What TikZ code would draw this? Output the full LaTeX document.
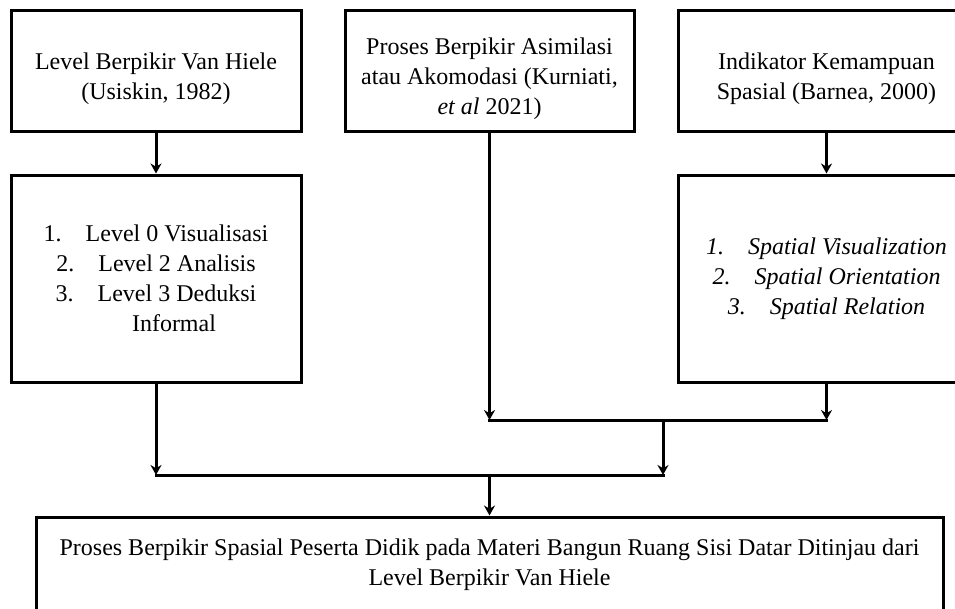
\documentclass[tikz,border=0pt]{standalone}
\usepackage{fontspec}
\setmainfont{Liberation Serif}
\usetikzlibrary{positioning,arrows.meta}

\newcommand{\topstrut}{\rule{0pt}{33pt}}

\begin{document}
\begin{tikzpicture}[x=1pt,y=-1pt]
  \tikzstyle{box} = [rectangle, draw=black, line width=3pt, align=center, inner sep=0pt, font=\fontsize{24pt}{30pt}\selectfont]
  \tikzstyle{topbox} = [box, minimum height=121pt]
  \tikzstyle{arrow} = [line width=3pt,-{Stealth[length=10pt,width=11pt]}]
  \tikzstyle{line} = [line width=3pt, line cap=rect]
  \useasboundingbox (0,0) rectangle (955,608);

  \node (lvl) [topbox, minimum width=290pt] at (156,70.5) {\topstrut Level Berpikir Van Hiele\\(Usiskin, 1982)};
  \node (asim) [topbox, minimum width=289pt] at (489.5,70.5) {\topstrut Proses Berpikir Asimilasi\\atau Akomodasi (Kurniati,\\\textit{et al} 2021)};
  \node (ind) [topbox, minimum width=297pt] at (826.5,70.5) {\topstrut Indikator Kemampuan\\Spasial (Barnea, 2000)};
  \node (list) [box, below=41pt of lvl, minimum width=290pt, minimum height=207pt] {1.\quad Level 0 Visualisasi\\2.\quad Level 2 Analisis\\3.\quad Level 3 Deduksi\\\hspace*{1.5em}Informal};
  \node (spat) [box, below=41pt of ind, minimum width=297pt, minimum height=207pt, font=\fontsize{24pt}{30pt}\selectfont\itshape] {1.\quad Spatial Visualization\\2.\quad Spatial Orientation\\3.\quad Spatial Relation};
  \node (res) [box, minimum width=907pt, minimum height=96pt] at (489.5,565) {Proses Berpikir Spasial Peserta Didik pada Materi Bangun Ruang Sisi Datar Ditinjau dari\\Level Berpikir Van Hiele};

  \coordinate (j1) at (663,420);
  \coordinate (j2) at (663,475);

  \draw[arrow] (lvl) -- (list);
  \draw[arrow] (ind) -- (spat);
  \draw[arrow] (asim) -- (asim |- j1);
  \draw[arrow] (spat) -- (spat |- j1);
  \draw[line] (asim |- j1) -- (spat |- j1);
  \draw[arrow] (j1) -- (j2);
  \draw[arrow] (list) -- (list |- j2);
  \draw[line] (list |- j2) -- (j2);
  \draw[arrow] (res |- j2) -- (res);
\end{tikzpicture}
\end{document}
